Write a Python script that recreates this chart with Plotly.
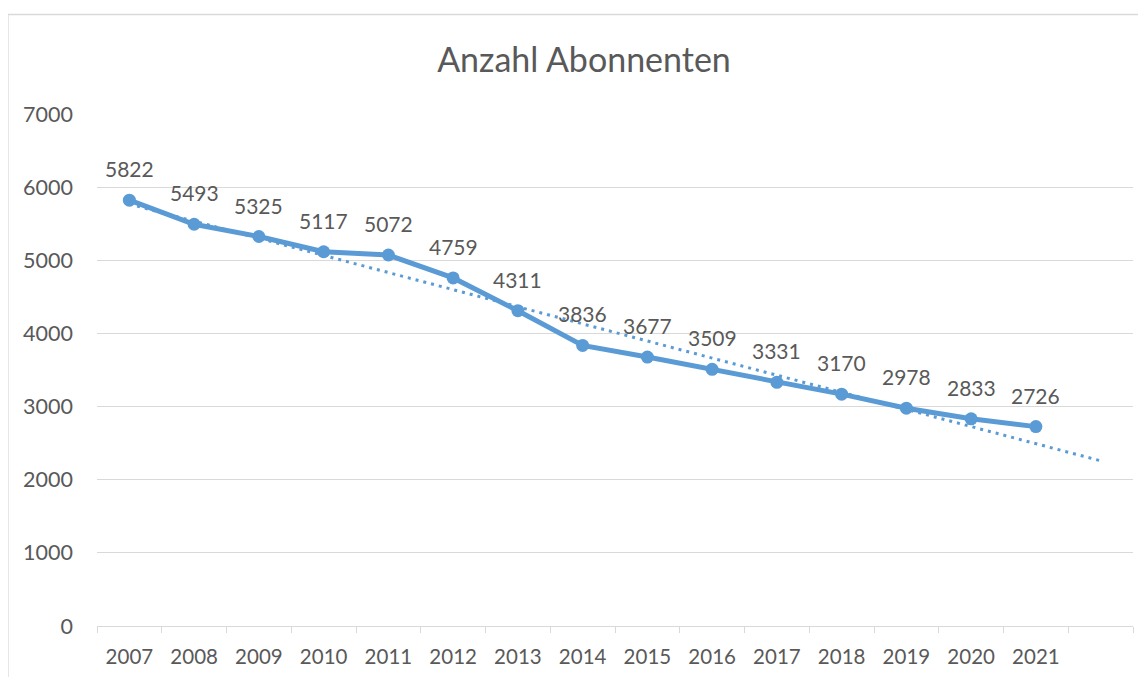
import numpy as np
import plotly.graph_objects as go

years = ["2007", "2008", "2009", "2010", "2011", "2012", "2013", "2014",
         "2015", "2016", "2017", "2018", "2019", "2020", "2021"]
abonnenten = [5822, 5493, 5325, 5117, 5072, 4759, 4311, 3836,
              3677, 3509, 3331, 3170, 2978, 2833, 2726]
forecast_periods = 1
y_ticks = [0, 1000, 2000, 3000, 4000, 5000, 6000, 7000]

BLUE = "#5B9BD5"
TEXT = "#595959"
GRID = "#D9D9D9"
FONT = "Lato"

xi = np.arange(1, len(years) + 1)
coef = np.polyfit(xi, abonnenten, 1)
xt = np.array([1, len(years) + forecast_periods])
yt = np.polyval(coef, xt)

fig = go.Figure()
fig.add_trace(go.Scatter(
    x=xi, y=abonnenten, mode="lines+markers",
    line=dict(color=BLUE, width=5),
    marker=dict(color=BLUE, size=13),
    hoverinfo="skip", showlegend=False,
))
fig.add_trace(go.Scatter(
    x=xt, y=yt, mode="lines",
    line=dict(color=BLUE, width=3, dash="3px,5px"),
    hoverinfo="skip", showlegend=False,
))

for x, v in zip(xi, abonnenten):
    fig.add_annotation(x=x, y=v, text=str(v), showarrow=False,
                       yanchor="bottom", yshift=17,
                       font=dict(family=FONT, size=21, color=TEXT))

# page body has an 8px margin; figure origin is at (8, 8) on screen
OFF = 8
W, H = 1146, 677
L, T = 97 - OFF, 114 - OFF
R = W - (1133 - OFF)
B = H - (626 - OFF)
pw, ph = W - L - R, H - T - B

def px_x(p):
    return (p - OFF - L) / pw

def px_y(p):
    return (H - B - (p - OFF)) / ph

fig.add_shape(type="rect", xref="paper", yref="paper",
              x0=px_x(8), x1=px_x(1170), y0=px_y(720), y1=px_y(14.5),
              line=dict(color=GRID, width=1.3), fillcolor="rgba(0,0,0,0)",
              layer="below")

fig.update_layout(
    width=W, height=H,
    margin=dict(l=L, r=R, t=T, b=B, autoexpand=False),
    paper_bgcolor="white", plot_bgcolor="white",
    font=dict(family=FONT, color=TEXT),
    title=dict(text="Anzahl Abonnenten", x=(584 - OFF) / W, xanchor="center",
               y=1 - (60 - OFF) / H, yanchor="middle",
               xref="container", yref="container",
               font=dict(family=FONT, size=34, color=TEXT)),
)
fig.update_xaxes(
    range=[0.5, len(years) + forecast_periods + 0.5],
    tickmode="array", tickvals=list(xi), ticktext=years,
    ticks="", showgrid=False, zeroline=False,
    showline=True, linecolor=GRID, linewidth=1.3,
    tickfont=dict(family=FONT, size=20.5, color=TEXT),
    ticklabelstandoff=12,
    minor=dict(ticks="outside", ticklen=6, tickwidth=1.3, tickcolor=GRID,
               tickmode="linear", tick0=0.5, dtick=1, showgrid=False),
)
fig.update_yaxes(
    range=[0, 7000], tickmode="array", tickvals=y_ticks,
    showgrid=True, gridcolor=GRID, gridwidth=1.3, zeroline=False,
    showline=False, ticks="",
    tickfont=dict(family=FONT, size=21.5, color=TEXT),
    ticklabelstandoff=23,
)

fig.write_html("out.html")
